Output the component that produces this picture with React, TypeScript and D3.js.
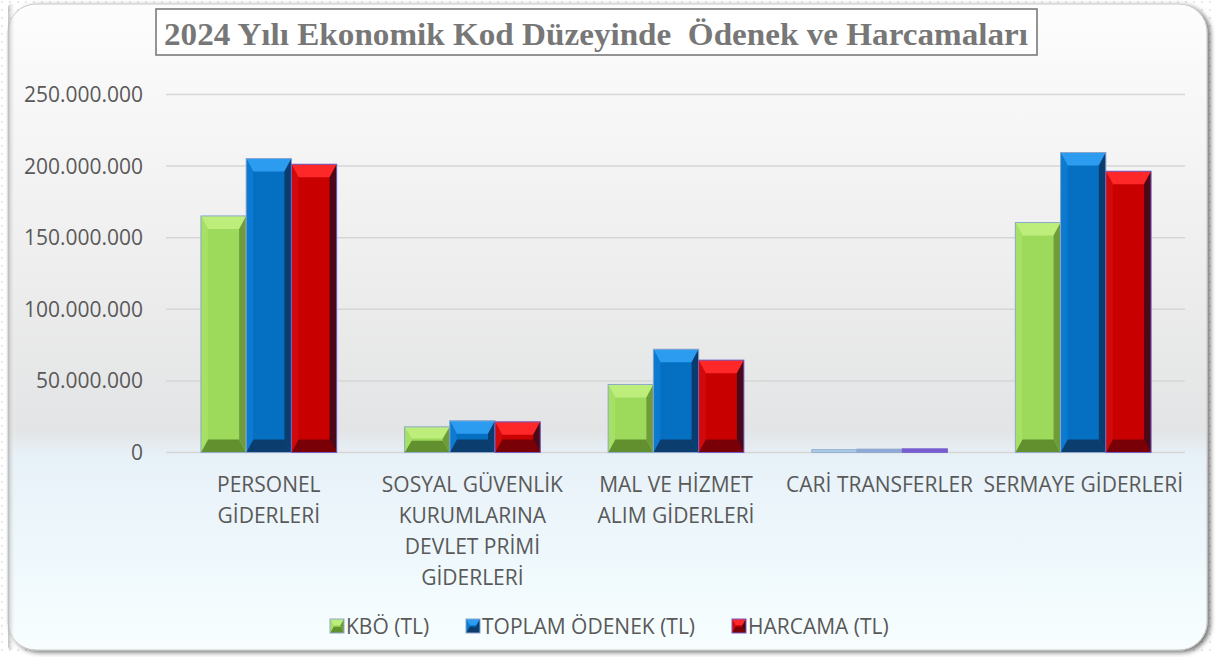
import React from "react";
import * as d3 from "d3";

const categories: string[][] = [
  ["PERSONEL", "GİDERLERİ"],
  ["SOSYAL GÜVENLİK", "KURUMLARINA", "DEVLET PRİMİ", "GİDERLERİ"],
  ["MAL VE HİZMET", "ALIM GİDERLERİ"],
  ["CARİ TRANSFERLER"],
  ["SERMAYE GİDERLERİ"],
];
const seriesNames = ["KBÖ (TL)", "TOPLAM ÖDENEK (TL)", "HARCAMA (TL)"];
const kbo = [165200000, 17900000, 47500000, 2000000, 160600000];
const toplamOdenek = [205300000, 22100000, 72100000, 2400000, 209500000];
const harcama = [201300000, 21400000, 64500000, 2600000, 196400000];
const yTicks = [0, 50000000, 100000000, 150000000, 200000000, 250000000];
const titleText = "2024 Yılı Ekonomik Kod Düzeyinde  Ödenek ve Harcamaları";

const seriesValues = [kbo, toplamOdenek, harcama];

type Pal = { face: string; top: string; bottom: string; left: string; right: string; stroke: string; thin: string };
const palettes: Pal[] = [
  { face: "#9dd95a", top: "#bdee7c", bottom: "#62902f", left: "#a6e064", right: "#6e9c3a", stroke: "#8eaacb", thin: "#a9cbe8" },
  { face: "#0570c2", top: "#2c9cf0", bottom: "#0b3d6e", left: "#0b7ad0", right: "#0a3d6e", stroke: "#8aa6cc", thin: "#8faad6" },
  { face: "#c80000", top: "#ff2828", bottom: "#7a0008", left: "#d00a0a", right: "#4a0818", stroke: "#7060c8", thin: "#7a5cd0" },
];

const fmt = (v: number) => d3.format(",")(v).replace(/,/g, ".");

function BevelBar({ x, y, w, h, p }: { x: number; y: number; w: number; h: number; p: Pal }) {
  if (h < 7) {
    return <rect x={x} y={y} width={w} height={Math.max(h, 2)} fill={p.thin} stroke={p.stroke} strokeWidth={0.8} />;
  }
  const bx = Math.min(7, w / 4);
  const by = Math.min(13, h / 2.2);
  const x2 = x + w, y2 = y + h;
  return (
    <g>
      <rect x={x} y={y} width={w} height={h} fill={p.face} />
      <polygon points={`${x},${y} ${x2},${y} ${x2 - bx},${y + by} ${x + bx},${y + by}`} fill={p.top} />
      <polygon points={`${x},${y2} ${x2},${y2} ${x2 - bx},${y2 - by} ${x + bx},${y2 - by}`} fill={p.bottom} />
      <polygon points={`${x},${y} ${x + bx},${y + by} ${x + bx},${y2 - by} ${x},${y2}`} fill={p.left} />
      <polygon points={`${x2},${y} ${x2 - bx},${y + by} ${x2 - bx},${y2 - by} ${x2},${y2}`} fill={p.right} />
      <rect x={x} y={y} width={w} height={h} fill="none" stroke={p.stroke} strokeWidth={1} />
    </g>
  );
}

export default function App() {
  const W = 1215, H = 657;
  const plotLeft = 167, plotRight = 1185;
  const y0 = 452.5, yTop = 94.5;
  const x = d3.scaleBand<number>().domain(d3.range(categories.length)).range([plotLeft, plotRight]).padding(0);
  const xi = d3.scaleBand<number>().domain([0, 1, 2]).range([0, x.bandwidth()]).paddingInner(0).paddingOuter(0.75);
  const y = d3.scaleLinear().domain([0, 250000000]).range([y0, yTop]);
  const font = "'Open Sans', 'Noto Sans', sans-serif";
  const textColor = "#595959";
  const fs = 21;

  const legendX = [330, 466, 732];

  return (
    <div style={{ position: "fixed", left: 0, top: 0, width: W, height: H }}>
      <svg width={W} height={H} style={{ display: "block" }}>
        <defs>
          <pattern id="dots" width="8" height="8" patternUnits="userSpaceOnUse">
            <circle cx="2" cy="2" r="0.9" fill="#dcdcdc" />
          </pattern>
          <linearGradient id="bg" x1="0" y1="0" x2="0" y2="1">
            <stop offset="0" stopColor="#fdfdfd" />
            <stop offset="0.35" stopColor="#f0f0f0" />
            <stop offset="0.66" stopColor="#e3e4e5" />
            <stop offset="0.70" stopColor="#e7f1f8" />
            <stop offset="0.85" stopColor="#eef8fc" />
            <stop offset="1" stopColor="#f8feff" />
          </linearGradient>
          <filter id="shadow" x="-5%" y="-5%" width="110%" height="110%">
            <feDropShadow dx="3" dy="2" stdDeviation="2.5" floodColor="#000" floodOpacity="0.55" />
          </filter>
          <linearGradient id="leftEdge" x1="0" y1="0" x2="1" y2="0">
            <stop offset="0" stopColor="#b0b0b0" stopOpacity="0.8" />
            <stop offset="1" stopColor="#ffffff" stopOpacity="0" />
          </linearGradient>
        </defs>
        <rect x={0} y={0} width={W} height={H} fill="#ffffff" />
        <rect x={0} y={0} width={W} height={H} fill="url(#dots)" />
        <rect x={8} y={4} width={1199} height={646} rx={28} ry={28} fill="url(#bg)" stroke="#c8c8c8" strokeWidth={1} filter="url(#shadow)" />
        <rect x={8} y={4} width={8} height={646} rx={4} fill="url(#leftEdge)" />

        {/* title */}
        <rect x={156} y={9} width={881} height={46} fill="#ffffff" stroke="#7a7a7a" strokeWidth={1.6} />
        <text x={596} y={45} textAnchor="middle" fontFamily="'Liberation Serif', 'DejaVu Serif', serif" fontWeight="bold" fontSize={31}
          fill="#777777" textLength={864} lengthAdjust="spacingAndGlyphs" style={{ whiteSpace: "pre" }}>{titleText}</text>

        {/* grid + y labels */}
        {yTicks.map((t) => (
          <g key={t}>
            <line x1={plotLeft - 1} x2={plotRight} y1={y(t)} y2={y(t)} stroke="#d6d6d6" strokeWidth={1.5} />
            <text x={143} y={y(t)} dy="0.36em" textAnchor="end" fontFamily={font} fontSize={fs} fill={textColor}>{fmt(t)}</text>
          </g>
        ))}

        {/* bars */}
        {categories.map((_, ci) => (
          <g key={ci}>
            {seriesValues.map((vals, si) => {
              const bx = (x(ci) as number) + (xi(si) as number);
              const by = y(vals[ci]);
              return <BevelBar key={si} x={bx} y={by} w={xi.bandwidth()} h={y0 - by} p={palettes[si]} />;
            })}
          </g>
        ))}

        {/* category labels */}
        {categories.map((lines, ci) => (
          <text key={ci} textAnchor="middle" fontFamily={font} fontSize={fs} fill={textColor}>
            {lines.map((ln, li) => (
              <tspan key={li} x={(x(ci) as number) + x.bandwidth() / 2} y={491.5 + li * 31}>{ln}</tspan>
            ))}
          </text>
        ))}

        {/* legend */}
        {seriesNames.map((n, si) => (
          <g key={n}>
            <BevelBar x={legendX[si]} y={619} w={14} h={14} p={{ ...palettes[si] }} />
            <text x={legendX[si] + 16} y={633.5} fontFamily={font} fontSize={fs} fill={textColor}>{n}</text>
          </g>
        ))}
      </svg>
    </div>
  );
}
